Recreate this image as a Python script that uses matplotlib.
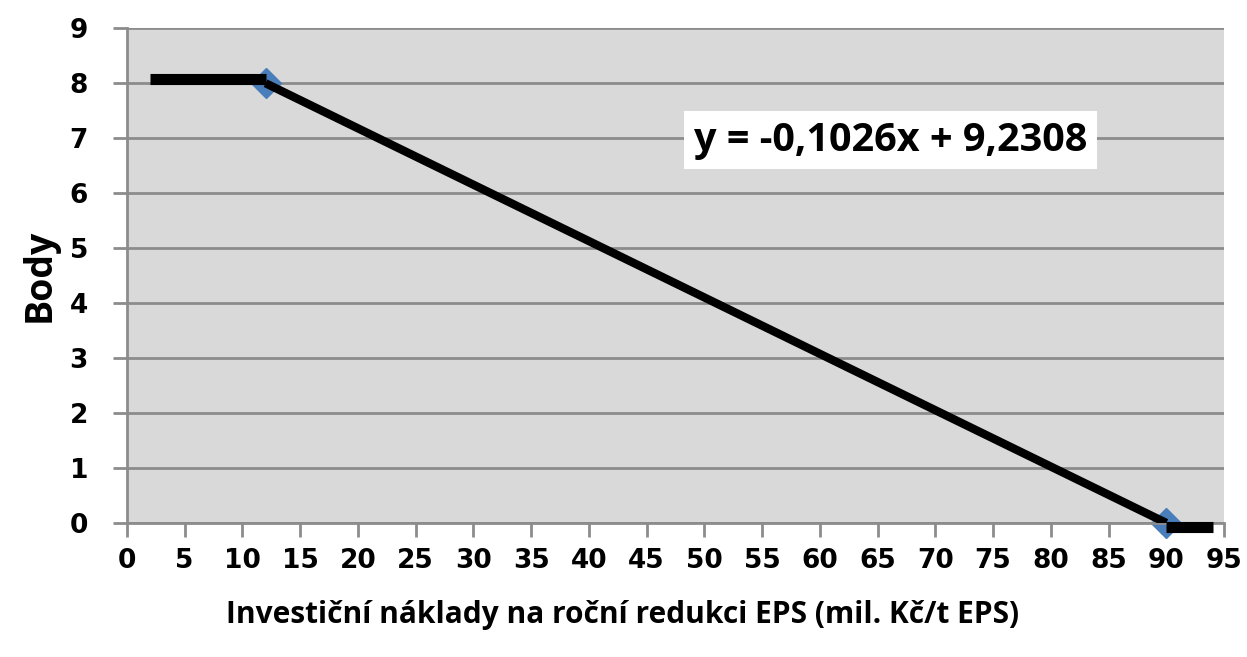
import matplotlib
matplotlib.use("Agg")
import matplotlib.pyplot as plt

# data
body_x = [12, 90]
body_y = [8, 0]
trend_x = [12, 90]
trend_y = [8, 0]
cap_left_x = [2, 12]
cap_left_y = [8.08, 8.08]
cap_right_x = [90, 94]
cap_right_y = [-0.08, -0.08]
x_ticks = list(range(0, 100, 5))
y_ticks = list(range(0, 10))
rovnice = "y = -0,1026x + 9,2308"

fig = plt.figure(figsize=(12.47, 6.57), dpi=100)
ax = fig.add_axes([0.1018, 0.204, 0.8798, 0.753])
ax.set_facecolor("#d9d9d9")

# mrizka
for yy in y_ticks:
    ax.axhline(yy, color="#8c8c8c", lw=2, zorder=1)

ax.plot(trend_x, trend_y, color="black", lw=6, zorder=3, solid_capstyle="butt")
ax.plot(cap_left_x, cap_left_y, color="black", lw=8, zorder=3, solid_capstyle="butt", clip_on=False)
ax.plot(cap_right_x, cap_right_y, color="black", lw=8, zorder=3, solid_capstyle="butt", clip_on=False)
ax.plot(body_x, body_y, "D", color="#4a7ebb", ms=15, zorder=2, clip_on=False)

ax.set_xlim(0, 95)
ax.set_ylim(0, 9)
ax.set_xticks(x_ticks)
ax.set_yticks(y_ticks)

for s in ["top", "right"]:
    ax.spines[s].set_visible(False)
for s in ["left", "bottom"]:
    ax.spines[s].set_color("#8c8c8c")
    ax.spines[s].set_linewidth(2)

ax.tick_params(axis="both", colors="#8c8c8c", width=2, length=10, direction="out")
ax.tick_params(axis="x", pad=8)
ax.tick_params(axis="y", pad=18)
for lab in ax.get_xticklabels() + ax.get_yticklabels():
    lab.set_color("black")
    lab.set_fontsize(19)
    lab.set_fontweight("bold")
    lab.set_family("DejaVu Sans")

ax.set_ylabel("Body", fontsize=27, fontweight="bold", family="Open Sans", labelpad=8)
ax.set_xlabel("Investiční náklady na roční redukci EPS (mil. Kč/t EPS)",
              fontsize=21.5, fontweight="bold", family="Open Sans")
ax.xaxis.set_label_coords(0.452, -0.155)

ax.text(0.696, 0.774, rovnice, transform=ax.transAxes, fontsize=28.5, fontweight="bold",
        family="Open Sans", ha="center", va="center", zorder=5,
        bbox=dict(facecolor="white", edgecolor="none", pad=7))

fig.savefig("out.png", dpi=100)
